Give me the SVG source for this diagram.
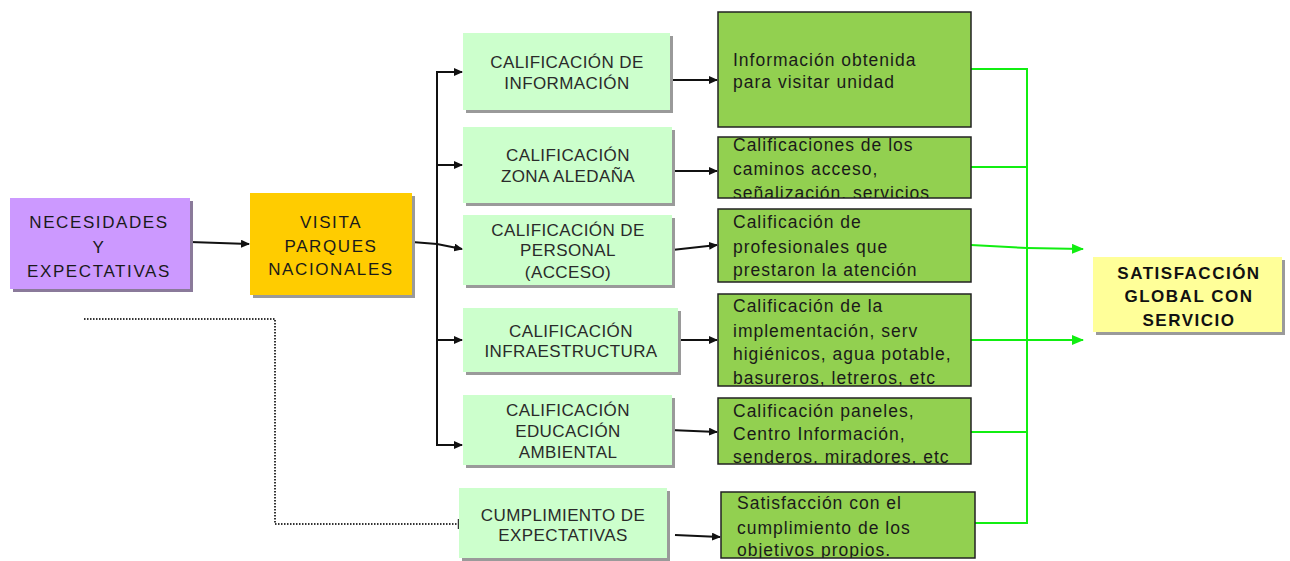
<svg xmlns="http://www.w3.org/2000/svg" width="1290" height="561" viewBox="0 0 1290 561">
<style>
.t{font-family:"Liberation Sans",Arial,sans-serif;font-size:17px;fill:#222;}
.cap{letter-spacing:1.6px;text-anchor:middle;fill:#1a1a1a;}
.lt{letter-spacing:0.4px;text-anchor:middle;fill:#2a2a2a;}
.dk{font-size:17.5px;letter-spacing:1px;fill:#1a1a1a;}
.bd{font-weight:bold;letter-spacing:1.5px;text-anchor:middle;fill:#111;}
.sh{fill:#9a9a9a;}
.lg{fill:#CCFFCC;}
.dg{fill:#92D050;stroke:#222;stroke-width:1.5;}
.blk{fill:none;stroke:#111;stroke-width:2;}
.grn{fill:none;stroke:#11EE11;stroke-width:2;}
</style>
<defs>
<marker id="ab" markerWidth="9" markerHeight="8" refX="8" refY="4" orient="auto" markerUnits="userSpaceOnUse">
<path d="M0,0 L9,4 L0,8 z" fill="#111"/>
</marker>
<marker id="ag" markerWidth="12" markerHeight="10" refX="11" refY="5" orient="auto" markerUnits="userSpaceOnUse">
<path d="M0,0 L12,5 L0,10 z" fill="#11EE11"/>
</marker>
<clipPath id="c2"><rect x="718" y="137" width="253" height="61"/></clipPath>
<clipPath id="c4"><rect x="718" y="294" width="253" height="92"/></clipPath>
<clipPath id="c5"><rect x="718" y="398" width="253" height="66"/></clipPath>
<clipPath id="c6"><rect x="721" y="492" width="254" height="66"/></clipPath>
</defs>

<g id="connectors">
<line class="blk" x1="190" y1="242" x2="249" y2="244" marker-end="url(#ab)"/>
<polyline class="blk" points="412,242 437,244 462,249" marker-end="url(#ab)"/>
<line class="blk" x1="437" y1="72" x2="437" y2="445"/>
<line class="blk" x1="436" y1="72" x2="462" y2="72" marker-end="url(#ab)"/>
<line class="blk" x1="436" y1="165" x2="462" y2="165" marker-end="url(#ab)"/>
<line class="blk" x1="436" y1="340" x2="462" y2="340" marker-end="url(#ab)"/>
<line class="blk" x1="436" y1="445" x2="462" y2="445" marker-end="url(#ab)"/>
<path d="M84 319 H275 V524 H458" fill="none" stroke="#333" stroke-width="2" stroke-dasharray="1.5 1.5"/>
<line x1="458.5" y1="519" x2="458.5" y2="529" stroke="#333" stroke-width="1.5"/>
<line class="blk" x1="670" y1="80" x2="717" y2="80" marker-end="url(#ab)"/>
<line class="blk" x1="672" y1="171" x2="717" y2="171" marker-end="url(#ab)"/>
<line class="blk" x1="672" y1="250" x2="717" y2="245" marker-end="url(#ab)"/>
<line class="blk" x1="678" y1="340" x2="717" y2="340" marker-end="url(#ab)"/>
<line class="blk" x1="670" y1="430" x2="717" y2="432" marker-end="url(#ab)"/>
<line class="blk" x1="675" y1="535" x2="720" y2="537" marker-end="url(#ab)"/>
<polyline class="grn" points="971,69 1027,69 1027,523 975,523"/>
<line class="grn" x1="971" y1="167" x2="1027" y2="167"/>
<line class="grn" x1="971" y1="245" x2="1027" y2="248"/>
<line class="grn" x1="971" y1="340" x2="1027" y2="340"/>
<line class="grn" x1="971" y1="432" x2="1027" y2="432"/>
<line class="grn" x1="1027" y1="248" x2="1083" y2="249" marker-end="url(#ag)"/>
<line class="grn" x1="1027" y1="340" x2="1083" y2="340" marker-end="url(#ag)"/>
</g>

<g id="necesidades">
<rect x="13" y="201" width="180" height="91" fill="#8a7a9a"/>
<rect x="10" y="198" width="180" height="91" fill="#CC99FF"/>
<text class="t cap" x="99" y="228">NECESIDADES</text>
<text class="t cap" x="99" y="253">Y</text>
<text class="t cap" x="99" y="277">EXPECTATIVAS</text>
</g>

<g id="visita">
<rect x="253" y="196" width="162" height="102" class="sh"/>
<rect x="250" y="193" width="162" height="102" fill="#FFCC00"/>
<text class="t cap" x="331" y="228">VISITA</text>
<text class="t cap" x="331" y="252">PARQUES</text>
<text class="t cap" x="331" y="275">NACIONALES</text>
</g>

<g id="cal-informacion">
<rect x="466" y="36" width="207" height="77" class="sh"/>
<rect x="463" y="33" width="207" height="77" class="lg"/>
<text class="t lt" x="567" y="68">CALIFICACIÓN DE</text>
<text class="t lt" x="567" y="89">INFORMACIÓN</text>
</g>

<g id="cal-zona">
<rect x="466" y="130" width="209" height="76" class="sh"/>
<rect x="463" y="127" width="209" height="76" class="lg"/>
<text class="t lt" x="568" y="161">CALIFICACIÓN</text>
<text class="t lt" x="568" y="182">ZONA ALEDAÑA</text>
</g>

<g id="cal-personal">
<rect x="466" y="218" width="209" height="70" class="sh"/>
<rect x="463" y="215" width="209" height="70" class="lg"/>
<text class="t lt" x="568" y="236">CALIFICACIÓN DE</text>
<text class="t lt" x="568" y="256">PERSONAL</text>
<text class="t lt" x="568" y="278">(ACCESO)</text>
</g>

<g id="cal-infra">
<rect x="466" y="311" width="215" height="64" class="sh"/>
<rect x="463" y="308" width="215" height="64" class="lg"/>
<text class="t lt" x="571" y="337">CALIFICACIÓN</text>
<text class="t lt" x="571" y="357">INFRAESTRUCTURA</text>
</g>

<g id="cal-educacion">
<rect x="466" y="398" width="209" height="70" class="sh"/>
<rect x="463" y="395" width="209" height="70" class="lg"/>
<text class="t lt" x="568" y="416">CALIFICACIÓN</text>
<text class="t lt" x="568" y="437">EDUCACIÓN</text>
<text class="t lt" x="568" y="458">AMBIENTAL</text>
</g>

<g id="cumplimiento">
<rect x="462" y="491" width="208" height="70" class="sh"/>
<rect x="459" y="488" width="208" height="70" class="lg"/>
<text class="t lt" x="563" y="521">CUMPLIMIENTO DE</text>
<text class="t lt" x="563" y="541">EXPECTATIVAS</text>
</g>

<g id="info-obtenida">
<rect x="718" y="12" width="253" height="115" class="dg"/>
<text class="t dk" x="733" y="66">Información obtenida</text>
<text class="t dk" x="733" y="88">para visitar unidad</text>
</g>

<g id="caminos">
<rect x="718" y="137" width="253" height="61" fill="#92D050"/>
<g clip-path="url(#c2)">
<text class="t dk" x="733" y="151">Calificaciones de los</text>
<text class="t dk" x="733" y="175">caminos acceso,</text>
<text class="t dk" x="733" y="199">señalización, servicios</text>
</g>
<rect x="718" y="137" width="253" height="61" fill="none" stroke="#222" stroke-width="1.5"/>
</g>

<g id="profesionales">
<rect x="718" y="209" width="253" height="73" class="dg"/>
<text class="t dk" x="733" y="228">Calificación de</text>
<text class="t dk" x="733" y="253">profesionales que</text>
<text class="t dk" x="733" y="276">prestaron la atención</text>
</g>

<g id="implementacion">
<rect x="718" y="294" width="253" height="92" fill="#92D050"/>
<g clip-path="url(#c4)">
<text class="t dk" x="733" y="312">Calificación de la</text>
<text class="t dk" x="733" y="337">implementación, serv</text>
<text class="t dk" x="733" y="360">higiénicos, agua potable,</text>
<text class="t dk" x="733" y="384">basureros, letreros, etc</text>
</g>
<rect x="718" y="294" width="253" height="92" fill="none" stroke="#222" stroke-width="1.5"/>
</g>

<g id="paneles">
<rect x="718" y="398" width="253" height="66" fill="#92D050"/>
<g clip-path="url(#c5)">
<text class="t dk" x="733" y="417">Calificación paneles,</text>
<text class="t dk" x="733" y="440">Centro Información,</text>
<text class="t dk" x="733" y="463">senderos, miradores, etc</text>
</g>
<rect x="718" y="398" width="253" height="66" fill="none" stroke="#222" stroke-width="1.5"/>
</g>

<g id="satisfaccion-objetivos">
<rect x="721" y="492" width="254" height="66" fill="#92D050"/>
<g clip-path="url(#c6)">
<text class="t dk" x="737" y="509">Satisfacción con el</text>
<text class="t dk" x="737" y="534">cumplimiento de los</text>
<text class="t dk" x="737" y="556">objetivos propios.</text>
</g>
<rect x="721" y="492" width="254" height="66" fill="none" stroke="#222" stroke-width="1.5"/>
</g>

<g id="satisfaccion-global">
<rect x="1096" y="260" width="189" height="75" class="sh"/>
<rect x="1093" y="257" width="189" height="75" fill="#FFFF99"/>
<text class="t bd" x="1189" y="279">SATISFACCIÓN</text>
<text class="t bd" x="1189" y="302">GLOBAL CON</text>
<text class="t bd" x="1189" y="326">SERVICIO</text>
</g>
</svg>
